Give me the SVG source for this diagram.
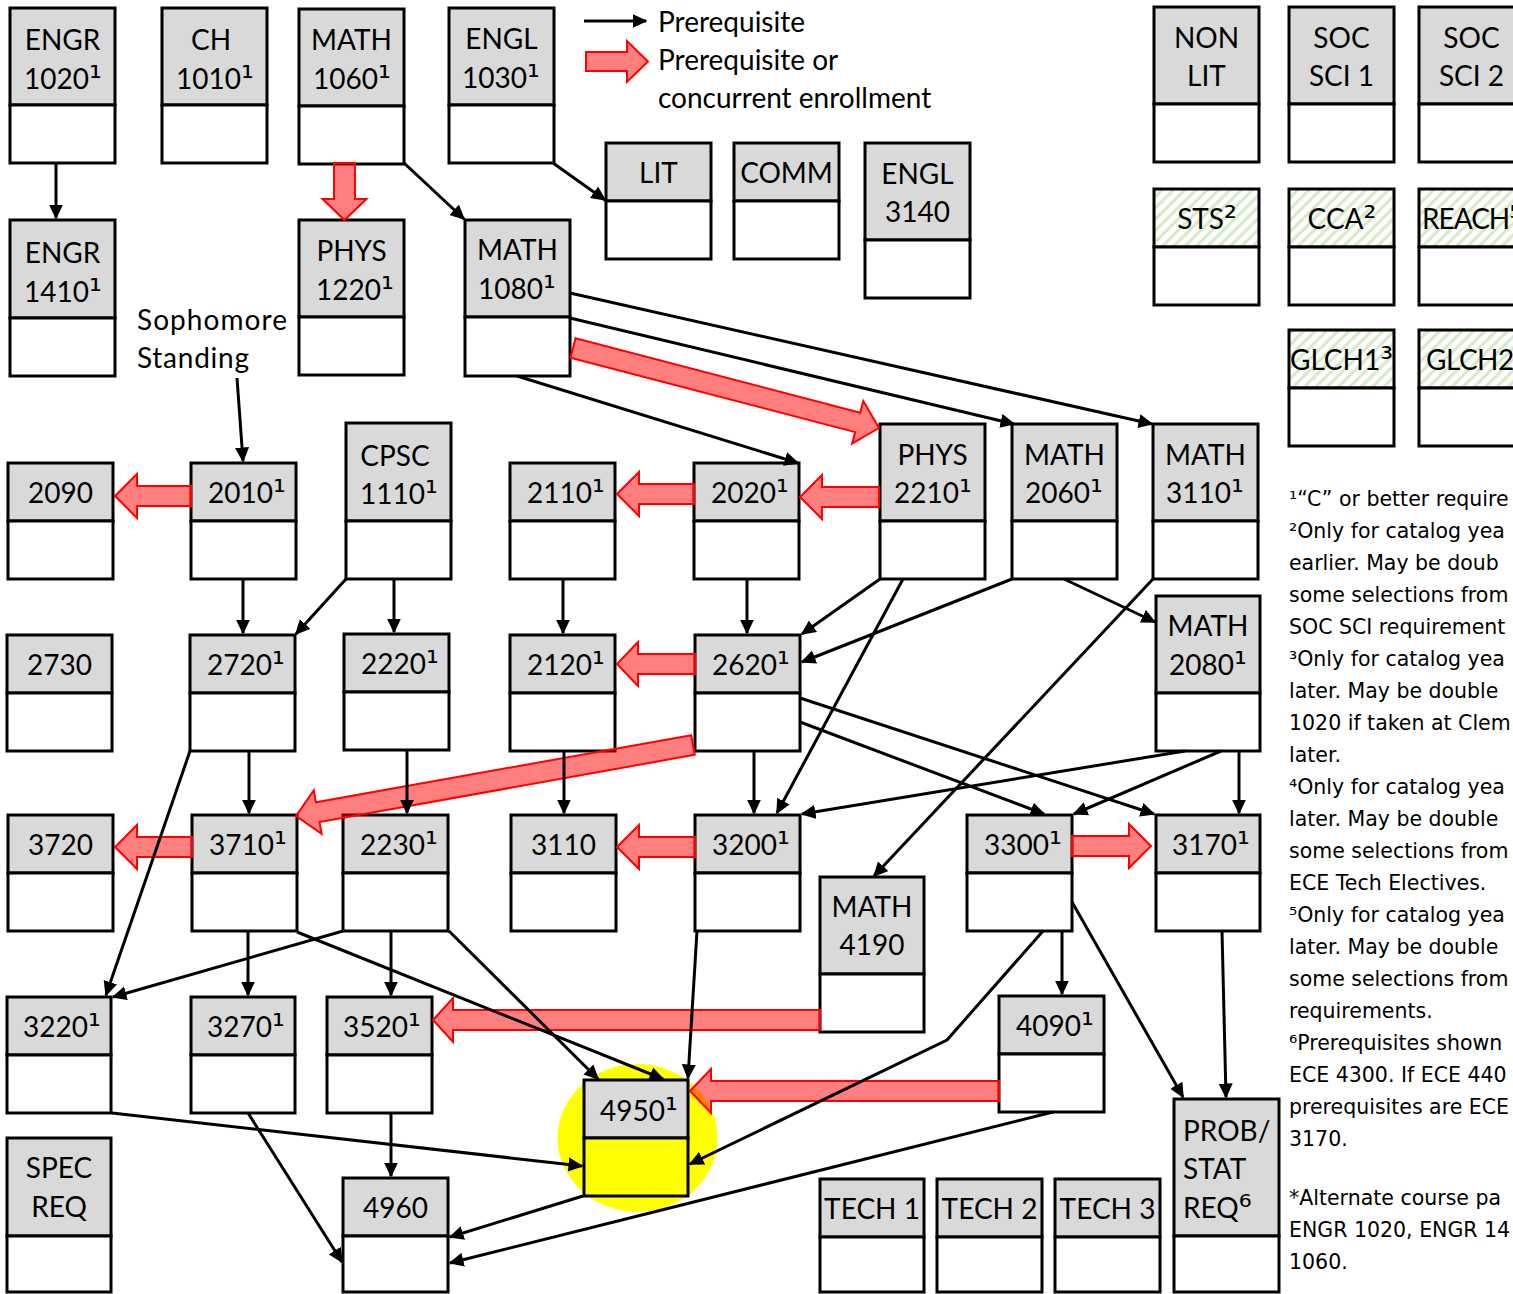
<svg xmlns="http://www.w3.org/2000/svg" width="1513" height="1294" viewBox="0 0 1513 1294">
<defs>
<style>
.h{fill:#d9d9d9;stroke:#000;stroke-width:3}
.hh{fill:url(#hatch);stroke:#000;stroke-width:3}
.b{fill:#fff;stroke:#000;stroke-width:3}
.by{fill:#ffff00;stroke:#000;stroke-width:3}
.t{font-family:Lato,"Liberation Sans",sans-serif;font-size:28px;fill:#000;text-anchor:middle}
.ts{font-family:Lato,"Liberation Sans",sans-serif;font-size:28px;fill:#000}
.s{font-family:"DejaVu Sans",sans-serif;font-size:32px}
.fn{font-family:"DejaVu Sans",Verdana,sans-serif;font-size:20.5px;fill:#000}
.c{fill:none;stroke:#000;stroke-width:3;marker-end:url(#ah)}
.r{fill:#ff0000;fill-opacity:0.5;stroke:#ff0000;stroke-width:2}
</style>
<marker id="ah" viewBox="0 0 10 10" refX="9" refY="5" markerWidth="5" markerHeight="5" orient="auto" markerUnits="strokeWidth">
<path d="M0,0.3 L10,5 L0,9.7 z" fill="#000"/>
</marker>
<pattern id="hatch" width="8" height="8" patternUnits="userSpaceOnUse" patternTransform="rotate(45)">
<rect width="8" height="8" fill="#fff"/>
<line x1="4" y1="0" x2="4" y2="8" stroke="#d3e8c6" stroke-width="3"/>
</pattern>
</defs>
<rect width="1513" height="1294" fill="#fff"/>

<ellipse id="highlight" cx="637.5" cy="1138" rx="80" ry="74" fill="#ffff00"/>

<g id="legend">
<line class="c" x1="584" y1="21" x2="646" y2="21"/>
<polygon class="r" points="586,52 627,52 627,41 648,61.5 627,82 627,71 586,71"/>
<text class="ts" x="658" y="32">Prerequisite</text>
<text class="ts" x="658" y="70">Prerequisite or</text>
<text class="ts" x="658" y="108">concurrent enrollment</text>
</g>

<g id="engr1020"><rect class="h" x="10" y="8" width="105" height="97"/><rect class="b" x="10" y="105" width="105" height="58"/><text class="t" x="62.5" y="50">ENGR</text><text class="t" x="63" y="89">1020<tspan class="s">¹</tspan></text></g>
<g id="ch1010"><rect class="h" x="162" y="8" width="105" height="97"/><rect class="b" x="162" y="105" width="105" height="58"/><text class="t" x="211" y="50">CH</text><text class="t" x="215" y="89">1010<tspan class="s">¹</tspan></text></g>
<g id="math1060"><rect class="h" x="299" y="9" width="105" height="97"/><rect class="b" x="299" y="106" width="105" height="58"/><text class="t" x="351.5" y="50">MATH</text><text class="t" x="352" y="89">1060<tspan class="s">¹</tspan></text></g>
<g id="engl1030"><rect class="h" x="449" y="8" width="105" height="97"/><rect class="b" x="449" y="105" width="105" height="58"/><text class="t" x="501.5" y="49">ENGL</text><text class="t" x="501" y="88">1030<tspan class="s">¹</tspan></text></g>
<g id="lit"><rect class="h" x="606" y="143" width="105" height="58"/><rect class="b" x="606" y="201" width="105" height="58"/><text class="t" x="658.5" y="183">LIT</text></g>
<g id="comm"><rect class="h" x="734" y="143" width="105" height="58"/><rect class="b" x="734" y="201" width="105" height="58"/><text class="t" x="786.5" y="183">COMM</text></g>
<g id="engl3140"><rect class="h" x="865" y="143" width="105" height="97"/><rect class="b" x="865" y="240" width="105" height="58"/><text class="t" x="917.5" y="184">ENGL</text><text class="t" x="917.5" y="222">3140</text></g>
<g id="nonlit"><rect class="h" x="1154" y="7" width="105" height="97"/><rect class="b" x="1154" y="104" width="105" height="58"/><text class="t" x="1206.5" y="48">NON</text><text class="t" x="1206.5" y="86">LIT</text></g>
<g id="socsci1"><rect class="h" x="1289" y="7" width="105" height="97"/><rect class="b" x="1289" y="104" width="105" height="58"/><text class="t" x="1341.5" y="48">SOC</text><text class="t" x="1341.5" y="86">SCI 1</text></g>
<g id="socsci2"><rect class="h" x="1419" y="7" width="105" height="97"/><rect class="b" x="1419" y="104" width="105" height="58"/><text class="t" x="1471.5" y="48">SOC</text><text class="t" x="1471.5" y="86">SCI 2</text></g>
<g id="sts"><rect class="hh" x="1154" y="189" width="105" height="58"/><rect class="b" x="1154" y="247" width="105" height="58"/><text class="t" x="1207" y="229">STS<tspan class="s">²</tspan></text></g>
<g id="cca"><rect class="hh" x="1289" y="189" width="105" height="58"/><rect class="b" x="1289" y="247" width="105" height="58"/><text class="t" x="1342" y="229">CCA<tspan class="s">²</tspan></text></g>
<g id="reach"><rect class="hh" x="1419" y="189" width="105" height="58"/><rect class="b" x="1419" y="247" width="105" height="58"/><text class="ts" x="1422" y="229" letter-spacing="-1">REACH<tspan class="s" letter-spacing="0">⁵</tspan></text></g>
<g id="glch1"><rect class="hh" x="1289" y="330" width="105" height="58"/><rect class="b" x="1289" y="388" width="105" height="58"/><text class="t" x="1341.5" y="370">GLCH1<tspan class="s">³</tspan></text></g>
<g id="glch2"><rect class="hh" x="1419" y="330" width="105" height="58"/><rect class="b" x="1419" y="388" width="105" height="58"/><text class="ts" x="1426" y="370" letter-spacing="-0.5">GLCH2<tspan class="s" letter-spacing="0">⁴</tspan></text></g>

<g id="engr1410"><rect class="h" x="10" y="220" width="105" height="98"/><rect class="b" x="10" y="318" width="105" height="58"/><text class="t" x="62.5" y="263">ENGR</text><text class="t" x="63" y="302">1410<tspan class="s">¹</tspan></text></g>
<g id="phys1220"><rect class="h" x="299" y="220" width="105" height="97"/><rect class="b" x="299" y="317" width="105" height="58"/><text class="t" x="351.5" y="261">PHYS</text><text class="t" x="355" y="300">1220<tspan class="s">¹</tspan></text></g>
<g id="math1080"><rect class="h" x="465" y="220" width="105" height="97"/><rect class="b" x="465" y="317" width="105" height="59"/><text class="t" x="517.5" y="260">MATH</text><text class="t" x="517" y="299">1080<tspan class="s">¹</tspan></text></g>
<g id="sophomore"><text class="ts" x="137" y="330" textLength="150">Sophomore</text><text class="ts" x="137" y="368" textLength="112">Standing</text></g>

<g id="c2090"><rect class="h" x="8" y="463" width="105" height="58"/><rect class="b" x="8" y="521" width="105" height="58"/><text class="t" x="60.5" y="503">2090</text></g>
<g id="c2010"><rect class="h" x="191" y="463" width="105" height="58"/><rect class="b" x="191" y="521" width="105" height="58"/><text class="t" x="247" y="503">2010<tspan class="s">¹</tspan></text></g>
<g id="cpsc1110"><rect class="h" x="346" y="423" width="105" height="98"/><rect class="b" x="346" y="521" width="105" height="58"/><text class="t" x="395" y="466">CPSC</text><text class="t" x="399" y="504">1110<tspan class="s">¹</tspan></text></g>
<g id="c2110"><rect class="h" x="510" y="463" width="105" height="58"/><rect class="b" x="510" y="521" width="105" height="58"/><text class="t" x="566" y="503">2110<tspan class="s">¹</tspan></text></g>
<g id="c2020"><rect class="h" x="694" y="463" width="105" height="58"/><rect class="b" x="694" y="521" width="105" height="58"/><text class="t" x="750" y="503">2020<tspan class="s">¹</tspan></text></g>
<g id="phys2210"><rect class="h" x="880" y="424" width="105" height="97"/><rect class="b" x="880" y="521" width="105" height="58"/><text class="t" x="932.5" y="465">PHYS</text><text class="t" x="933" y="503">2210<tspan class="s">¹</tspan></text></g>
<g id="math2060"><rect class="h" x="1012" y="424" width="105" height="97"/><rect class="b" x="1012" y="521" width="105" height="58"/><text class="t" x="1064.5" y="465">MATH</text><text class="t" x="1064" y="503">2060<tspan class="s">¹</tspan></text></g>
<g id="math3110"><rect class="h" x="1153" y="424" width="105" height="97"/><rect class="b" x="1153" y="521" width="105" height="58"/><text class="t" x="1205.5" y="465">MATH</text><text class="t" x="1205" y="503">3110<tspan class="s">¹</tspan></text></g>

<g id="c2730"><rect class="h" x="7" y="635" width="105" height="58"/><rect class="b" x="7" y="693" width="105" height="58"/><text class="t" x="59.5" y="675">2730</text></g>
<g id="c2720"><rect class="h" x="190" y="635" width="105" height="58"/><rect class="b" x="190" y="693" width="105" height="58"/><text class="t" x="246" y="675">2720<tspan class="s">¹</tspan></text></g>
<g id="c2220"><rect class="h" x="344" y="634" width="105" height="58"/><rect class="b" x="344" y="692" width="105" height="58"/><text class="t" x="400" y="674">2220<tspan class="s">¹</tspan></text></g>
<g id="c2120"><rect class="h" x="510" y="635" width="105" height="58"/><rect class="b" x="510" y="693" width="105" height="58"/><text class="t" x="566" y="675">2120<tspan class="s">¹</tspan></text></g>
<g id="c2620"><rect class="h" x="695" y="635" width="105" height="58"/><rect class="b" x="695" y="693" width="105" height="58"/><text class="t" x="751" y="675">2620<tspan class="s">¹</tspan></text></g>
<g id="math2080"><rect class="h" x="1156" y="596" width="104" height="97"/><rect class="b" x="1156" y="693" width="104" height="58"/><text class="t" x="1208" y="636">MATH</text><text class="t" x="1208" y="675">2080<tspan class="s">¹</tspan></text></g>

<g id="c3720"><rect class="h" x="8" y="815" width="105" height="58"/><rect class="b" x="8" y="873" width="105" height="58"/><text class="t" x="60.5" y="855">3720</text></g>
<g id="c3710"><rect class="h" x="192" y="815" width="105" height="58"/><rect class="b" x="192" y="873" width="105" height="58"/><text class="t" x="248" y="855">3710<tspan class="s">¹</tspan></text></g>
<g id="c2230"><rect class="h" x="343" y="815" width="105" height="58"/><rect class="b" x="343" y="873" width="105" height="58"/><text class="t" x="399" y="855">2230<tspan class="s">¹</tspan></text></g>
<g id="c3110"><rect class="h" x="511" y="815" width="105" height="58"/><rect class="b" x="511" y="873" width="105" height="58"/><text class="t" x="563.5" y="855">3110</text></g>
<g id="c3200"><rect class="h" x="695" y="815" width="105" height="58"/><rect class="b" x="695" y="873" width="105" height="58"/><text class="t" x="751" y="855">3200<tspan class="s">¹</tspan></text></g>
<g id="math4190"><rect class="h" x="820" y="877" width="104" height="97"/><rect class="b" x="820" y="974" width="104" height="58"/><text class="t" x="872" y="917">MATH</text><text class="t" x="872" y="955">4190</text></g>
<g id="c3300"><rect class="h" x="967" y="815" width="105" height="58"/><rect class="b" x="967" y="873" width="105" height="58"/><text class="t" x="1023" y="855">3300<tspan class="s">¹</tspan></text></g>
<g id="c3170"><rect class="h" x="1156" y="815" width="104" height="58"/><rect class="b" x="1156" y="873" width="104" height="58"/><text class="t" x="1211" y="855">3170<tspan class="s">¹</tspan></text></g>

<g id="c3220"><rect class="h" x="7" y="997" width="104" height="58"/><rect class="b" x="7" y="1055" width="104" height="58"/><text class="t" x="62" y="1037">3220<tspan class="s">¹</tspan></text></g>
<g id="c3270"><rect class="h" x="191" y="997" width="104" height="58"/><rect class="b" x="191" y="1055" width="104" height="58"/><text class="t" x="246" y="1037">3270<tspan class="s">¹</tspan></text></g>
<g id="c3520"><rect class="h" x="327" y="997" width="105" height="58"/><rect class="b" x="327" y="1055" width="105" height="58"/><text class="t" x="382" y="1037">3520<tspan class="s">¹</tspan></text></g>
<g id="c4090"><rect class="h" x="999" y="996" width="105" height="58"/><rect class="b" x="999" y="1054" width="105" height="58"/><text class="t" x="1055" y="1036">4090<tspan class="s">¹</tspan></text></g>
<g id="c4950"><rect class="h" x="584" y="1080" width="104" height="58"/><rect class="by" x="584" y="1138" width="104" height="58"/><text class="t" x="639" y="1121">4950<tspan class="s">¹</tspan></text></g>

<g id="specreq"><rect class="h" x="7" y="1138" width="104" height="98"/><rect class="b" x="7" y="1236" width="104" height="56"/><text class="t" x="59" y="1178">SPEC</text><text class="t" x="59" y="1217">REQ</text></g>
<g id="c4960"><rect class="h" x="343" y="1178" width="105" height="58"/><rect class="b" x="343" y="1236" width="105" height="56"/><text class="t" x="395.5" y="1218">4960</text></g>
<g id="tech1"><rect class="h" x="820" y="1179" width="104" height="58"/><rect class="b" x="820" y="1237" width="104" height="55"/><text class="t" x="872" y="1219">TECH 1</text></g>
<g id="tech2"><rect class="h" x="937" y="1179" width="105" height="58"/><rect class="b" x="937" y="1237" width="105" height="55"/><text class="t" x="989.5" y="1219">TECH 2</text></g>
<g id="tech3"><rect class="h" x="1055" y="1179" width="105" height="58"/><rect class="b" x="1055" y="1237" width="105" height="55"/><text class="t" x="1107.5" y="1219">TECH 3</text></g>
<g id="probstat"><rect class="h" x="1174" y="1099" width="105" height="137"/><rect class="b" x="1174" y="1236" width="105" height="56"/><text class="ts" x="1183" y="1141">PROB/</text><text class="ts" x="1183" y="1179">STAT</text><text class="ts" x="1183" y="1218">REQ<tspan class="s">⁶</tspan></text></g>

<g id="connectors">
<g id="red-arrows">
<polygon class="r" points="334,163 355,163 355,199 366.5,199 344.5,220 322.5,199 334,199"/>
<polygon class="r" points="575.5,338.3 860.2,412.7 863.3,401.1 879,428 852.1,443.7 855.2,432.1 570.5,357.7"/>
<polygon class="r" points="191,486 137,486 137,474 115,496 137,518 137,506 191,506"/>
<polygon class="r" points="879,487 822,487 822,475 800,497 822,519 822,507 879,507"/>
<polygon class="r" points="694,484 639,484 639,472 617,494 639,516 639,504 694,504"/>
<polygon class="r" points="695,654 638,654 638,642 617,664 638,686 638,674 695,674"/>
<polygon class="r" points="691.2,735.2 315.9,802.3 313.8,790.4 296,816 321.6,833.8 319.5,822 694.8,754.8"/>
<polygon class="r" points="192,837 137,837 137,825 115,847 137,869 137,857 192,857"/>
<polygon class="r" points="695,837 639,837 639,825 617,847 639,869 639,857 695,857"/>
<polygon class="r" points="1072,836 1129,836 1129,824 1151,846 1129,868 1129,856 1072,856"/>
<polygon class="r" points="820,1010 453,1010 453,998 433,1020 453,1042 453,1030 820,1030"/>
<polygon class="r" points="999,1081 711,1081 711,1069 690,1091 711,1113 711,1101 999,1101"/>
</g>
<g id="black-arrows">
<line class="c" x1="56" y1="163" x2="56" y2="218"/>
<line class="c" x1="404" y1="163" x2="464" y2="219"/>
<line class="c" x1="553" y1="163" x2="605" y2="200"/>
<line class="c" x1="237" y1="378" x2="243" y2="461"/>
<line class="c" x1="570" y1="293" x2="1152" y2="424"/>
<line class="c" x1="570" y1="318" x2="1014" y2="424"/>
<line class="c" x1="517" y1="376" x2="798" y2="463"/>
<line class="c" x1="243" y1="579" x2="243" y2="633"/>
<line class="c" x1="346" y1="579" x2="296" y2="634"/>
<line class="c" x1="394" y1="579" x2="394" y2="632"/>
<line class="c" x1="563" y1="579" x2="563" y2="633"/>
<line class="c" x1="747" y1="579" x2="747" y2="633"/>
<line class="c" x1="880" y1="579" x2="802" y2="634"/>
<line class="c" x1="1012" y1="579" x2="802" y2="662"/>
<line class="c" x1="903" y1="579" x2="777" y2="813"/>
<line class="c" x1="1153" y1="579" x2="874" y2="876"/>
<line class="c" x1="1064" y1="579" x2="1155" y2="622"/>
<line class="c" x1="800" y1="698" x2="1154" y2="814"/>
<line class="c" x1="800" y1="722" x2="1044" y2="814"/>
<line class="c" x1="754" y1="751" x2="754" y2="813"/>
<line class="c" x1="1185" y1="751" x2="802" y2="814"/>
<line class="c" x1="1221" y1="751" x2="1074" y2="814"/>
<line class="c" x1="1239" y1="751" x2="1239" y2="813"/>
<line class="c" x1="1062" y1="931" x2="1062" y2="994"/>
<polyline class="c" points="1043,931 947,1040 690,1164"/>
<line class="c" x1="1072" y1="902" x2="1183" y2="1097"/>
<line class="c" x1="1222" y1="931" x2="1226" y2="1097"/>
<line class="c" x1="1053" y1="1112" x2="450" y2="1263"/>
<line class="c" x1="697" y1="931" x2="688" y2="1078"/>
<line class="c" x1="249" y1="751" x2="249" y2="813"/>
<line class="c" x1="190" y1="751" x2="106" y2="995"/>
<line class="c" x1="407" y1="751" x2="407" y2="813"/>
<line class="c" x1="564" y1="751" x2="564" y2="813"/>
<line class="c" x1="343" y1="931" x2="113" y2="997"/>
<line class="c" x1="248" y1="931" x2="248" y2="995"/>
<line class="c" x1="297" y1="932" x2="663" y2="1079"/>
<line class="c" x1="391" y1="931" x2="391" y2="995"/>
<line class="c" x1="449" y1="931" x2="598" y2="1079"/>
<line class="c" x1="112" y1="1113" x2="582" y2="1166"/>
<line class="c" x1="248" y1="1113" x2="342" y2="1262"/>
<line class="c" x1="391" y1="1113" x2="391" y2="1176"/>
<line class="c" x1="583" y1="1196" x2="450" y2="1237"/>
</g>
</g>

<g id="footnotes">
<text class="fn" x="1289" y="506">¹“C” or better require</text>
<text class="fn" x="1289" y="538">²Only for catalog yea</text>
<text class="fn" x="1289" y="570">earlier. May be doub</text>
<text class="fn" x="1289" y="602">some selections from</text>
<text class="fn" x="1289" y="634">SOC SCI requirement</text>
<text class="fn" x="1289" y="666">³Only for catalog yea</text>
<text class="fn" x="1289" y="698">later. May be double</text>
<text class="fn" x="1289" y="730">1020 if taken at Clem</text>
<text class="fn" x="1289" y="762">later.</text>
<text class="fn" x="1289" y="794">⁴Only for catalog yea</text>
<text class="fn" x="1289" y="826">later. May be double</text>
<text class="fn" x="1289" y="858">some selections from</text>
<text class="fn" x="1289" y="890">ECE Tech Electives.</text>
<text class="fn" x="1289" y="922">⁵Only for catalog yea</text>
<text class="fn" x="1289" y="954">later. May be double</text>
<text class="fn" x="1289" y="986">some selections from</text>
<text class="fn" x="1289" y="1018">requirements.</text>
<text class="fn" x="1289" y="1050">⁶Prerequisites shown</text>
<text class="fn" x="1289" y="1082">ECE 4300. If ECE 440</text>
<text class="fn" x="1289" y="1114">prerequisites are ECE</text>
<text class="fn" x="1289" y="1146">3170.</text>
<text class="fn" x="1289" y="1205">*Alternate course pa</text>
<text class="fn" x="1289" y="1237">ENGR 1020, ENGR 14</text>
<text class="fn" x="1289" y="1269">1060.</text>
</g>
</svg>
